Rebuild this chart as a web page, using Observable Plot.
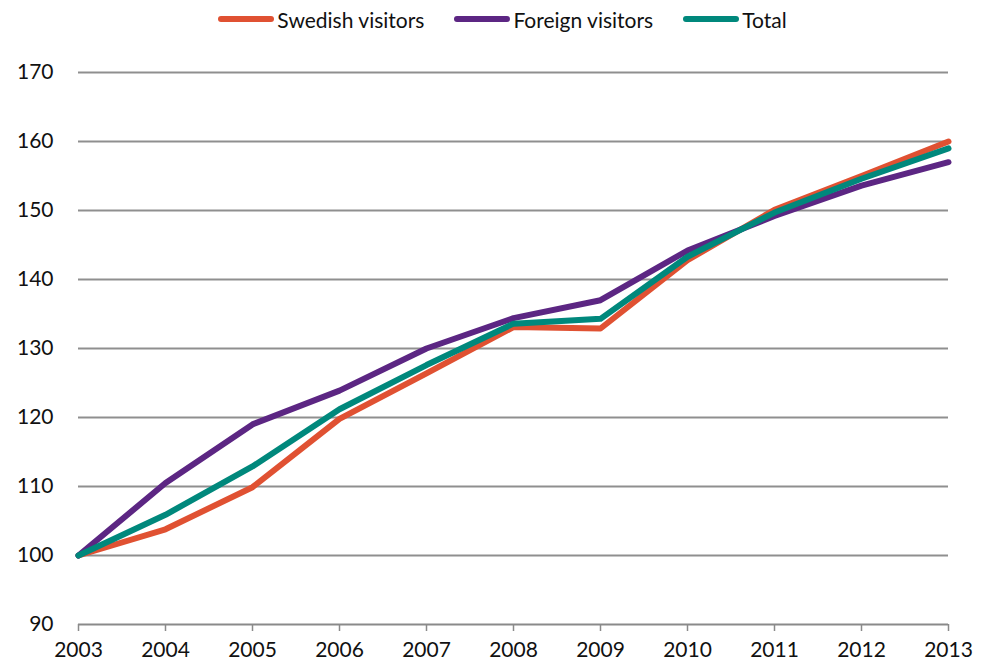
<!DOCTYPE html>
<html>
<head>
<meta charset="utf-8">
<script src="https://cdn.jsdelivr.net/npm/d3@7"></script>
<script src="https://cdn.jsdelivr.net/npm/@observablehq/plot@0.6"></script>
<style>
  html, body { margin: 0; padding: 0; background: #fff; }
  body { width: 989px; height: 665px; overflow: hidden; font-family: "Lato", sans-serif; }
  #legend { height: 38px; display: flex; justify-content: center; align-items: center; gap: 30px; font-size: 21px; color: #111; padding-left: 16px; box-sizing: border-box; }
  .item { display: flex; align-items: center; gap: 3px; }
  .sw { width: 56px; height: 6px; border-radius: 3px; }
</style>
</head>
<body>
<div id="legend"></div>
<div id="chart"></div>
<script>
const years = [2003, 2004, 2005, 2006, 2007, 2008, 2009, 2010, 2011, 2012, 2013];
const swedish = [100, 103.8, 109.9, 119.8, 126.4, 133.1, 132.9, 142.8, 150.1, 155.0, 160.0];
const foreign = [100, 110.5, 119.0, 123.9, 130.0, 134.4, 137.0, 144.2, 149.2, 153.6, 157.0];
const total   = [100, 105.9, 112.9, 121.2, 127.6, 133.6, 134.3, 143.3, 149.7, 154.6, 159.0];
const seriesNames = ["Swedish visitors", "Foreign visitors", "Total"];
const seriesColors = ["#e05132", "#5c2683", "#00887c"];
const yTicks = [90, 100, 110, 120, 130, 140, 150, 160, 170];

const allSeries = [swedish, foreign, total];
const rows = [];
seriesNames.forEach((name, i) => {
  years.forEach((yr, j) => rows.push({series: name, year: yr, value: allSeries[i][j]}));
});

const legend = document.getElementById("legend");
seriesNames.forEach((name, i) => {
  const it = document.createElement("div");
  it.className = "item";
  const sw = document.createElement("div");
  sw.className = "sw";
  sw.style.background = seriesColors[i];
  const tx = document.createElement("span");
  tx.textContent = name;
  it.appendChild(sw); it.appendChild(tx);
  legend.appendChild(it);
});

const chart = Plot.plot({
  width: 989,
  height: 627,
  marginTop: 34,
  marginLeft: 78,
  marginRight: 41,
  marginBottom: 41,
  style: {fontFamily: "Lato, sans-serif", fontSize: "21px", color: "#111", background: "#fff"},
  x: {type: "linear", domain: [2003, 2013]},
  y: {domain: [90, 170]},
  color: {domain: seriesNames, range: seriesColors},
  marks: [
    Plot.ruleY(yTicks.filter(d => d > 90), {stroke: "#8f8f8f", strokeWidth: 2}),
    Plot.ruleY([90], {stroke: "#8a8a8a", strokeWidth: 2}),
    Plot.axisX({ticks: years, tickFormat: d => String(d), tickSize: 7, tickPadding: 11, stroke: "#8a8a8a", strokeWidth: 1.5, fontSize: 21, label: null}),
    Plot.axisY({ticks: yTicks, tickSize: 0, tickPadding: 25, fontSize: 21, label: null}),
    Plot.line(rows, {x: "year", y: "value", z: "series", stroke: "series", strokeWidth: 6, strokeLinecap: "round", strokeLinejoin: "round"})
  ]
});
document.getElementById("chart").appendChild(chart);
</script>
</body>
</html>
